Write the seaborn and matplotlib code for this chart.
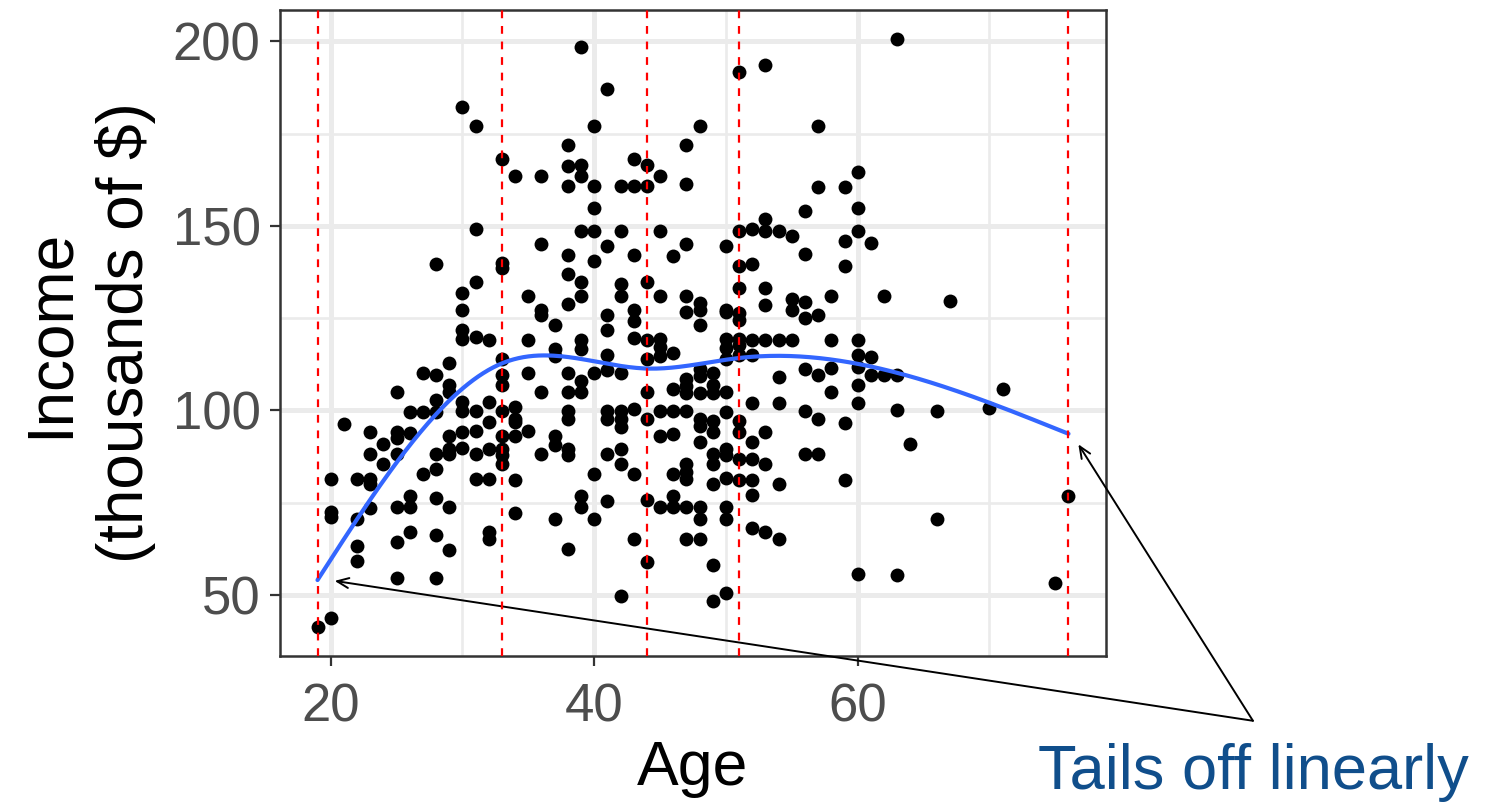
import numpy as np
import pandas as pd
import matplotlib
matplotlib.use("Agg")
import matplotlib.pyplot as plt
import seaborn as sns

# ---------------- data ----------------
ages = [19, 20, 21, 22, 23, 24, 25, 26, 27, 28, 29, 30, 31, 32, 33, 34, 35, 36, 37, 38,
        39, 40, 41, 42, 43, 44, 45, 46, 47, 48, 49, 50, 51, 52, 53, 54, 55, 56, 57, 58,
        59, 60, 61, 62, 63, 64, 66, 67, 70, 71, 75, 76]
incomes = [
    [41.4],
    [81.3, 72.5, 71.0, 43.8],
    [96.2],
    [81.3, 70.5, 63.2, 59.2],
    [94.1, 88.1, 81.4, 80.0, 73.5],
    [91.0, 85.4],
    [105.0, 94.0, 92.5, 88.1, 73.8, 64.3, 54.6],
    [99.5, 93.8, 76.8, 73.8, 67.0],
    [110.0, 99.5, 82.7],
    [139.7, 109.7, 102.7, 99.5, 88.1, 84.0, 76.2, 66.3, 54.6],
    [112.7, 107.0, 105.0, 93.0, 89.5, 88.1, 73.8, 62.3],
    [182.2, 131.9, 127.1, 121.7, 119.2, 102.2, 99.8, 94.0, 89.7],
    [177.0, 149.2, 134.7, 120.0, 99.8, 94.4, 88.1, 81.4],
    [119.0, 102.2, 96.8, 89.5, 81.4, 67.1, 65.1],
    [168.0, 140.0, 138.6, 113.8, 109.7, 106.8, 99.8, 93.0, 89.5, 87.8, 85.4],
    [163.5, 101.0, 97.6, 96.8, 93.0, 81.2, 72.2],
    [131.1, 119.0, 110.0, 94.4],
    [163.5, 145.1, 127.3, 125.7, 105.0, 88.1],
    [123.2, 116.5, 114.7, 93.0, 90.5, 70.5],
    [171.9, 166.2, 160.8, 142.2, 137.0, 128.9, 110.0, 105.0, 99.8, 97.6, 89.5, 87.8, 62.4],
    [198.5, 166.5, 163.5, 148.5, 134.7, 131.1, 119.0, 116.5, 108.0, 105.0, 76.8, 73.8],
    [177.0, 160.8, 154.8, 148.5, 140.4, 110.0, 82.7, 70.5],
    [187.0, 144.6, 125.7, 121.7, 114.9, 110.9, 99.8, 97.6, 88.1, 75.5],
    [160.8, 148.5, 134.3, 131.1, 110.0, 99.8, 97.6, 95.6, 89.5, 85.4, 49.6],
    [168.0, 160.8, 142.2, 127.3, 124.1, 119.6, 100.3, 82.7, 65.1],
    [166.5, 160.8, 134.7, 119.0, 114.0, 105.0, 97.6, 75.8, 59.0],
    [163.5, 148.5, 130.9, 119.2, 117.2, 114.7, 99.8, 93.0, 73.8],
    [141.9, 115.6, 105.9, 99.8, 93.5, 82.7, 76.8, 73.8],
    [171.9, 161.4, 145.1, 131.1, 126.6, 108.4, 106.6, 104.8, 99.8, 85.4, 83.2, 81.4, 73.8, 65.1],
    [177.0, 129.1, 127.3, 123.2, 111.1, 109.3, 104.8, 97.6, 95.8, 91.4, 73.8, 70.5, 65.1],
    [110.0, 107.0, 104.8, 97.1, 94.1, 88.1, 85.4, 80.0, 58.0, 48.3],
    [144.6, 127.3, 126.6, 119.2, 116.9, 113.8, 105.0, 99.5, 89.5, 87.8, 81.8, 73.8, 70.5, 50.5],
    [191.7, 148.5, 139.2, 133.2, 126.4, 124.6, 119.2, 117.6, 115.1, 97.1, 94.0, 86.8, 81.2],
    [149.1, 139.7, 119.0, 115.1, 102.1, 91.4, 86.8, 81.2, 77.0, 68.0],
    [193.5, 151.8, 148.5, 133.2, 128.6, 119.0, 94.0, 85.4, 67.0],
    [148.5, 119.0, 109.1, 101.9, 80.0, 65.1],
    [147.3, 130.2, 127.3, 119.0],
    [154.1, 142.4, 129.3, 125.1, 111.1, 99.8, 88.1],
    [177.0, 160.6, 125.7, 109.7, 97.6, 88.1],
    [131.1, 119.0, 111.5, 105.0],
    [160.6, 146.0, 139.0, 96.5, 81.2],
    [164.7, 154.8, 148.5, 119.0, 114.9, 111.8, 106.8, 101.9, 55.7],
    [145.3, 114.5, 109.7],
    [131.1, 109.7],
    [200.5, 109.7, 100.0, 55.5],
    [91.0],
    [99.7, 70.5],
    [129.5],
    [100.7],
    [105.7],
    [53.2],
    [76.8],
]
knots = [19, 33, 44, 51, 76]          # spline knots (boundary + quartiles)
x_ticks = [20, 40, 60]
y_ticks = [50, 100, 150, 200]
annotation_text = "Tails off linearly"

# ---------------- build table ----------------
age_col = np.concatenate([[a] * len(v) for a, v in zip(ages, incomes)])
inc_col = np.concatenate(incomes)
df = pd.DataFrame({"Age": age_col.astype(float), "Income": inc_col})


# natural cubic spline least-squares fit (ns with the knots above)
def ns_basis(x, kn):
    kn = np.asarray(kn, float)
    K = len(kn)
    def d(k):
        return (np.clip(x - kn[k], 0, None) ** 3 - np.clip(x - kn[K - 1], 0, None) ** 3) / (kn[K - 1] - kn[k])
    cols = [np.ones_like(x), x]
    for k in range(K - 2):
        cols.append(d(k) - d(K - 2))
    return np.column_stack(cols)


X = ns_basis(df["Age"].values, knots)
beta, *_ = np.linalg.lstsq(X, df["Income"].values, rcond=None)
grid = np.linspace(min(knots), max(knots), 300)
fit = pd.DataFrame({"Age": grid, "Income": ns_basis(grid, knots) @ beta})

# ---------------- plot ----------------
sns.set_theme(style="white")
plt.rcParams["font.family"] = ["Liberation Sans", "DejaVu Sans"]

fig = plt.figure(figsize=(14.86, 8.08), dpi=100)
ax = fig.add_axes([0.1884, 0.1881, 0.5559, 0.7995])

sns.scatterplot(data=df, x="Age", y="Income", color="black", s=100,
                linewidth=0, ax=ax, zorder=2)
sns.lineplot(data=fit, x="Age", y="Income", color="#3366FF", lw=3.0,
             ax=ax, zorder=3)
for k in knots:
    ax.axvline(k, color="red", lw=1.6, ls=(0, (3.5, 3.5)), zorder=4)

# limits with ggplot-like 5% expansion
xr = df["Age"].max() - df["Age"].min()
yr = df["Income"].max() - df["Income"].min()
ax.set_xlim(df["Age"].min() - 0.05 * xr, df["Age"].max() + 0.05 * xr)
ax.set_ylim(df["Income"].min() - 0.05 * yr, df["Income"].max() + 0.05 * yr)

ax.set_xticks(x_ticks)
ax.set_yticks(y_ticks)
ax.set_xticks([30, 50, 70], minor=True)
ax.set_yticks([75, 125, 175], minor=True)
ax.grid(which="major", color="#EBEBEB", lw=3.6)
ax.grid(which="minor", color="#EBEBEB", lw=1.9)
ax.set_axisbelow(True)
ax.tick_params(which="major", length=7, width=1.6, color="#333333",
               labelsize=38, labelcolor="#4D4D4D", direction="out",
               bottom=True, left=True)
ax.tick_params(axis="x", which="major", pad=12)
ax.tick_params(axis="y", which="major", pad=7)
ax.tick_params(which="minor", length=0)
for sp in ax.spines.values():
    sp.set_color("#333333")
    sp.set_linewidth(1.8)

ax.set_xlabel("Age", fontsize=45, color="black", labelpad=5)
ax.set_ylabel("Income\n(thousands of $)", fontsize=46, color="black",
              labelpad=12, linespacing=1.3)

# annotation
start = (90.0, 15.9)
for tip in [(20.3, 53.8), (76.75, 90.8)]:
    ax.annotate("", xy=tip, xytext=start, xycoords="data", textcoords="data",
                annotation_clip=False,
                arrowprops=dict(arrowstyle="->,head_length=0.7,head_width=0.3",
                                color="black", lw=1.4, shrinkA=0, shrinkB=0))
ax.text(90.0, -2.7, annotation_text, color="#104E8B", fontsize=45.5,
        ha="center", va="baseline", clip_on=False)

fig.savefig("out.png", dpi=100)
